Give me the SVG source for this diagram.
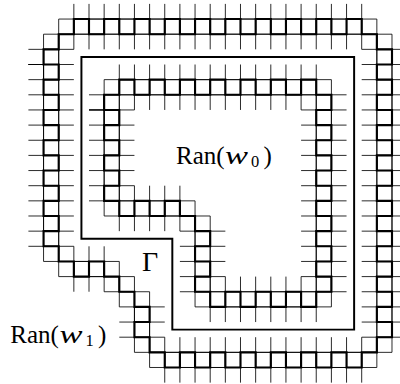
<svg xmlns="http://www.w3.org/2000/svg" width="400" height="384" viewBox="0 0 400 384">
<style>
.walk{fill:none;stroke:#000;stroke-width:0.14;stroke-linejoin:miter;marker-start:url(#x);marker-mid:url(#x);marker-end:url(#x)}
.gamma{fill:none;stroke:#000;stroke-width:0.13;stroke-linejoin:miter}
.t{font-family:"Liberation Serif","Times New Roman",serif;font-size:25px;fill:#000}
.i{font-style:italic;font-size:26px}
.s{font-size:16.5px}
.g{font-size:28px;text-anchor:middle}
</style>
<defs>
<marker id="x" markerUnits="userSpaceOnUse" viewBox="-1 -1 2 2" refX="0" refY="0" markerWidth="2" markerHeight="2" orient="0" overflow="visible">
<path d="M-1 0H1M0-1V1" fill="none" stroke="#000" stroke-width="0.055"/>
</marker>
</defs>
<rect width="400" height="384" fill="#fff"/>
<g transform="translate(28.4 3.9) scale(15.15)">
<g id="ran-w1">
<path class="walk" d="M1 4V3H2V2H3V1h1v1h1v-1h1v1h1v-1h1v1h1v-1h1v1h1v-1h1v1h1v-1h1v1h1v-1h1v1h1v-1h1v1h1v-1h1v1h1v-1h1v1h1v1h1v1h-1v1h1v1h-1v1h1v1h-1v1h1v1h-1v1h1v1h-1v1h1v1h-1v1h1v1h-1v1h1v1h-1v1h1v1h-1v1h1v1h-1v1h-1v1h-1v-1h-1v1h-1v-1h-1v1h-1v-1h-1v1h-1v-1h-1v1h-1v-1h-1v1h-1v-1h-1v1h-1v-1h-1v-1h-1v-1h1v-1h-1v-1h-1v-1h-1v-1h-1v1h-1v-1h-1v-1h-1v-1h1v-1h-1v-1h1v-1h-1v-1h1v-1h-1v-1h1v-1h-1v-1h1v-1h-1v-1h1v-1h-1z"/>
</g>
<g id="ran-w0">
<path class="walk" d="M5 7V6H6V5h1v1h1v-1h1v1h1v-1h1v1h1v-1h1v1h1v-1h1v1h1v-1h1v1h1v-1h1v1h1v1h-1v1h1v1h-1v1h1v1h-1v1h1v1h-1v1h1v1h-1v1h1v1h-1v1h1v1h-1v1h-1v-1h-1v1h-1v-1h-1v1h-1v-1h-1v1h-1v-1h-1v-1h1v-1h-1v-1h1v-1h-1v-1h-1v-1h-1v1h-1v-1h-1v1h-1v-1h-1v-1h1v-1h-1v-1h1v-1h-1v-1h1v-1h-1z"/>
</g>
<g id="gamma-boundary">
<path class="gamma" d="M3.5 3.5H21.5V21.5H9.5V15.5H3.5Z"/>
</g>
</g>
<g id="label-w0">
<text class="t" x="176" y="164.3">Ran(</text>
<text class="t i" x="225" y="164.3" textLength="23" lengthAdjust="spacingAndGlyphs">w</text>
<text class="t s" x="251" y="166.5">0</text>
<text class="t" x="263.5" y="164.3">)</text>
</g>
<g id="label-w1">
<text class="t" x="10.3" y="343.3">Ran(</text>
<text class="t i" x="59.5" y="343.3" textLength="23" lengthAdjust="spacingAndGlyphs">w</text>
<text class="t s" x="85.5" y="345.5">1</text>
<text class="t" x="98" y="343.3">)</text>
</g>
<g id="label-gamma">
<text class="t g" x="150" y="271">Γ</text>
</g>
</svg>
